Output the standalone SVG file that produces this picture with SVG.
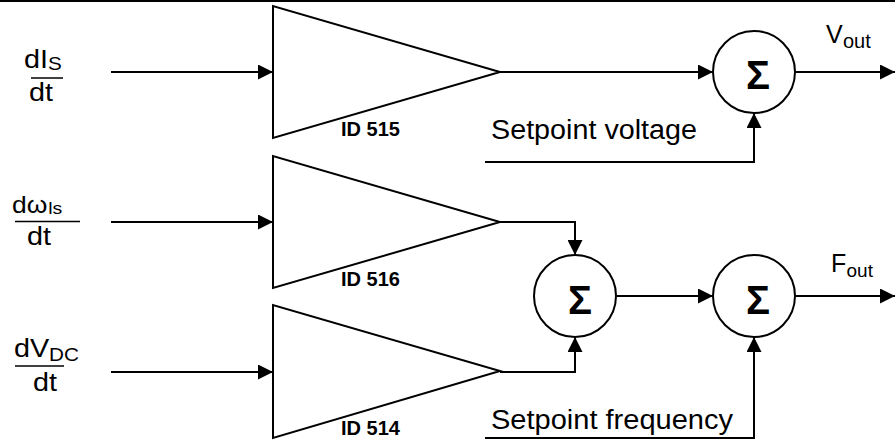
<svg xmlns="http://www.w3.org/2000/svg" width="895" height="445" viewBox="0 0 895 445">
<defs>
<style>
.ln{fill:none;stroke:#000;stroke-width:2}
.fr{fill:none;stroke:#000;stroke-width:1.5}
.tri{fill:#fff;stroke:#000;stroke-width:2;stroke-linejoin:miter}
.sum{fill:#fff;stroke:#000;stroke-width:2}
.sig{font-family:"Liberation Sans",Arial,sans-serif;font-weight:bold;font-size:40px;text-anchor:middle}
.t{font-family:"Liberation Sans",Arial,sans-serif;fill:#000}
.id{font-family:"Liberation Sans",Arial,sans-serif;font-weight:bold;font-size:20px}
</style>
<marker id="ah" markerWidth="15" markerHeight="15" refX="15" refY="7.5" orient="auto" markerUnits="userSpaceOnUse">
<path d="M0,0 L15,7.5 L0,15 Z" fill="#000"/>
</marker>
</defs>
<rect x="0" y="0" width="895" height="2" fill="#000"/>
<g id="connectors">
<line class="ln" x1="111" y1="72" x2="273" y2="72" marker-end="url(#ah)"/>
<line class="ln" x1="111" y1="222" x2="273" y2="222" marker-end="url(#ah)"/>
<line class="ln" x1="111" y1="372" x2="273" y2="372" marker-end="url(#ah)"/>
<line class="ln" x1="500" y1="72" x2="713" y2="72" marker-end="url(#ah)"/>
<polyline class="ln" points="485,162 754,162 754,113" marker-end="url(#ah)"/>
<line class="ln" x1="796" y1="72" x2="895" y2="72" marker-end="url(#ah)"/>
<polyline class="ln" points="500,222 575,222 575,255" marker-end="url(#ah)"/>
<polyline class="ln" points="500,372 575,372 575,337" marker-end="url(#ah)"/>
<line class="ln" x1="617" y1="296" x2="713" y2="296" marker-end="url(#ah)"/>
<polyline class="ln" points="485,438 754,438 754,337" marker-end="url(#ah)"/>
<line class="ln" x1="796" y1="296" x2="895" y2="296" marker-end="url(#ah)"/>
</g>
<g id="in1">
<g transform="translate(24,0) scale(1.15,1)">
<text class="t" x="0" y="68" font-size="25">dI</text>
<text class="t" x="20.9" y="70" font-size="18">S</text>
</g>
<line class="fr" x1="31" y1="78" x2="63" y2="78"/>
<text class="t" transform="translate(29,0) scale(1.15,1)" x="0" y="101.5" font-size="25">dt</text>
</g>
<g id="in2">
<g transform="translate(12,0) scale(1.15,1)">
<text class="t" x="0" y="213" font-size="23">dω</text>
<text class="t" x="31.5" y="214" font-size="17">ls</text>
</g>
<line class="fr" x1="15" y1="221.5" x2="80" y2="221.5"/>
<text class="t" transform="translate(27,0) scale(1.15,1)" x="0" y="245" font-size="25">dt</text>
</g>
<g id="in3">
<g transform="translate(14,0) scale(1.15,1)">
<text class="t" x="0" y="357" font-size="25">dV</text>
<text class="t" x="30.4" y="361.5" font-size="18">DC</text>
</g>
<line class="fr" x1="15" y1="366" x2="64" y2="366"/>
<text class="t" transform="translate(33,0) scale(1.15,1)" x="0" y="391.5" font-size="25">dt</text>
</g>
<g id="amp515">
<polygon class="tri" points="273,6 273,138 500,72"/>
<text class="id" x="341" y="136">ID 515</text>
</g>
<g id="amp516">
<polygon class="tri" points="273,156 273,288 500,222"/>
<text class="id" x="341" y="286">ID 516</text>
</g>
<g id="amp514">
<polygon class="tri" points="273,305 273,438 500,371"/>
<text class="id" x="341" y="435">ID 514</text>
</g>
<g id="sum1">
<circle class="sum" cx="754" cy="72" r="41"/>
<text class="sig" x="758" y="89">Σ</text>
</g>
<g id="sum2">
<circle class="sum" cx="575" cy="296" r="41"/>
<text class="sig" x="580" y="314">Σ</text>
</g>
<g id="sum3">
<circle class="sum" cx="754" cy="296" r="41"/>
<text class="sig" x="758" y="314">Σ</text>
</g>
<g id="labels">
<text class="t" x="491" y="139" font-size="27" textLength="206" lengthAdjust="spacingAndGlyphs">Setpoint voltage</text>
<text class="t" x="491" y="429" font-size="27" textLength="242" lengthAdjust="spacingAndGlyphs">Setpoint frequency</text>
<text class="t" x="826" y="43" font-size="25">V</text>
<text class="t" x="843" y="48" font-size="20">out</text>
<text class="t" x="831" y="272" font-size="25">F</text>
<text class="t" x="846.5" y="276.5" font-size="19">out</text>
</g>
</svg>
